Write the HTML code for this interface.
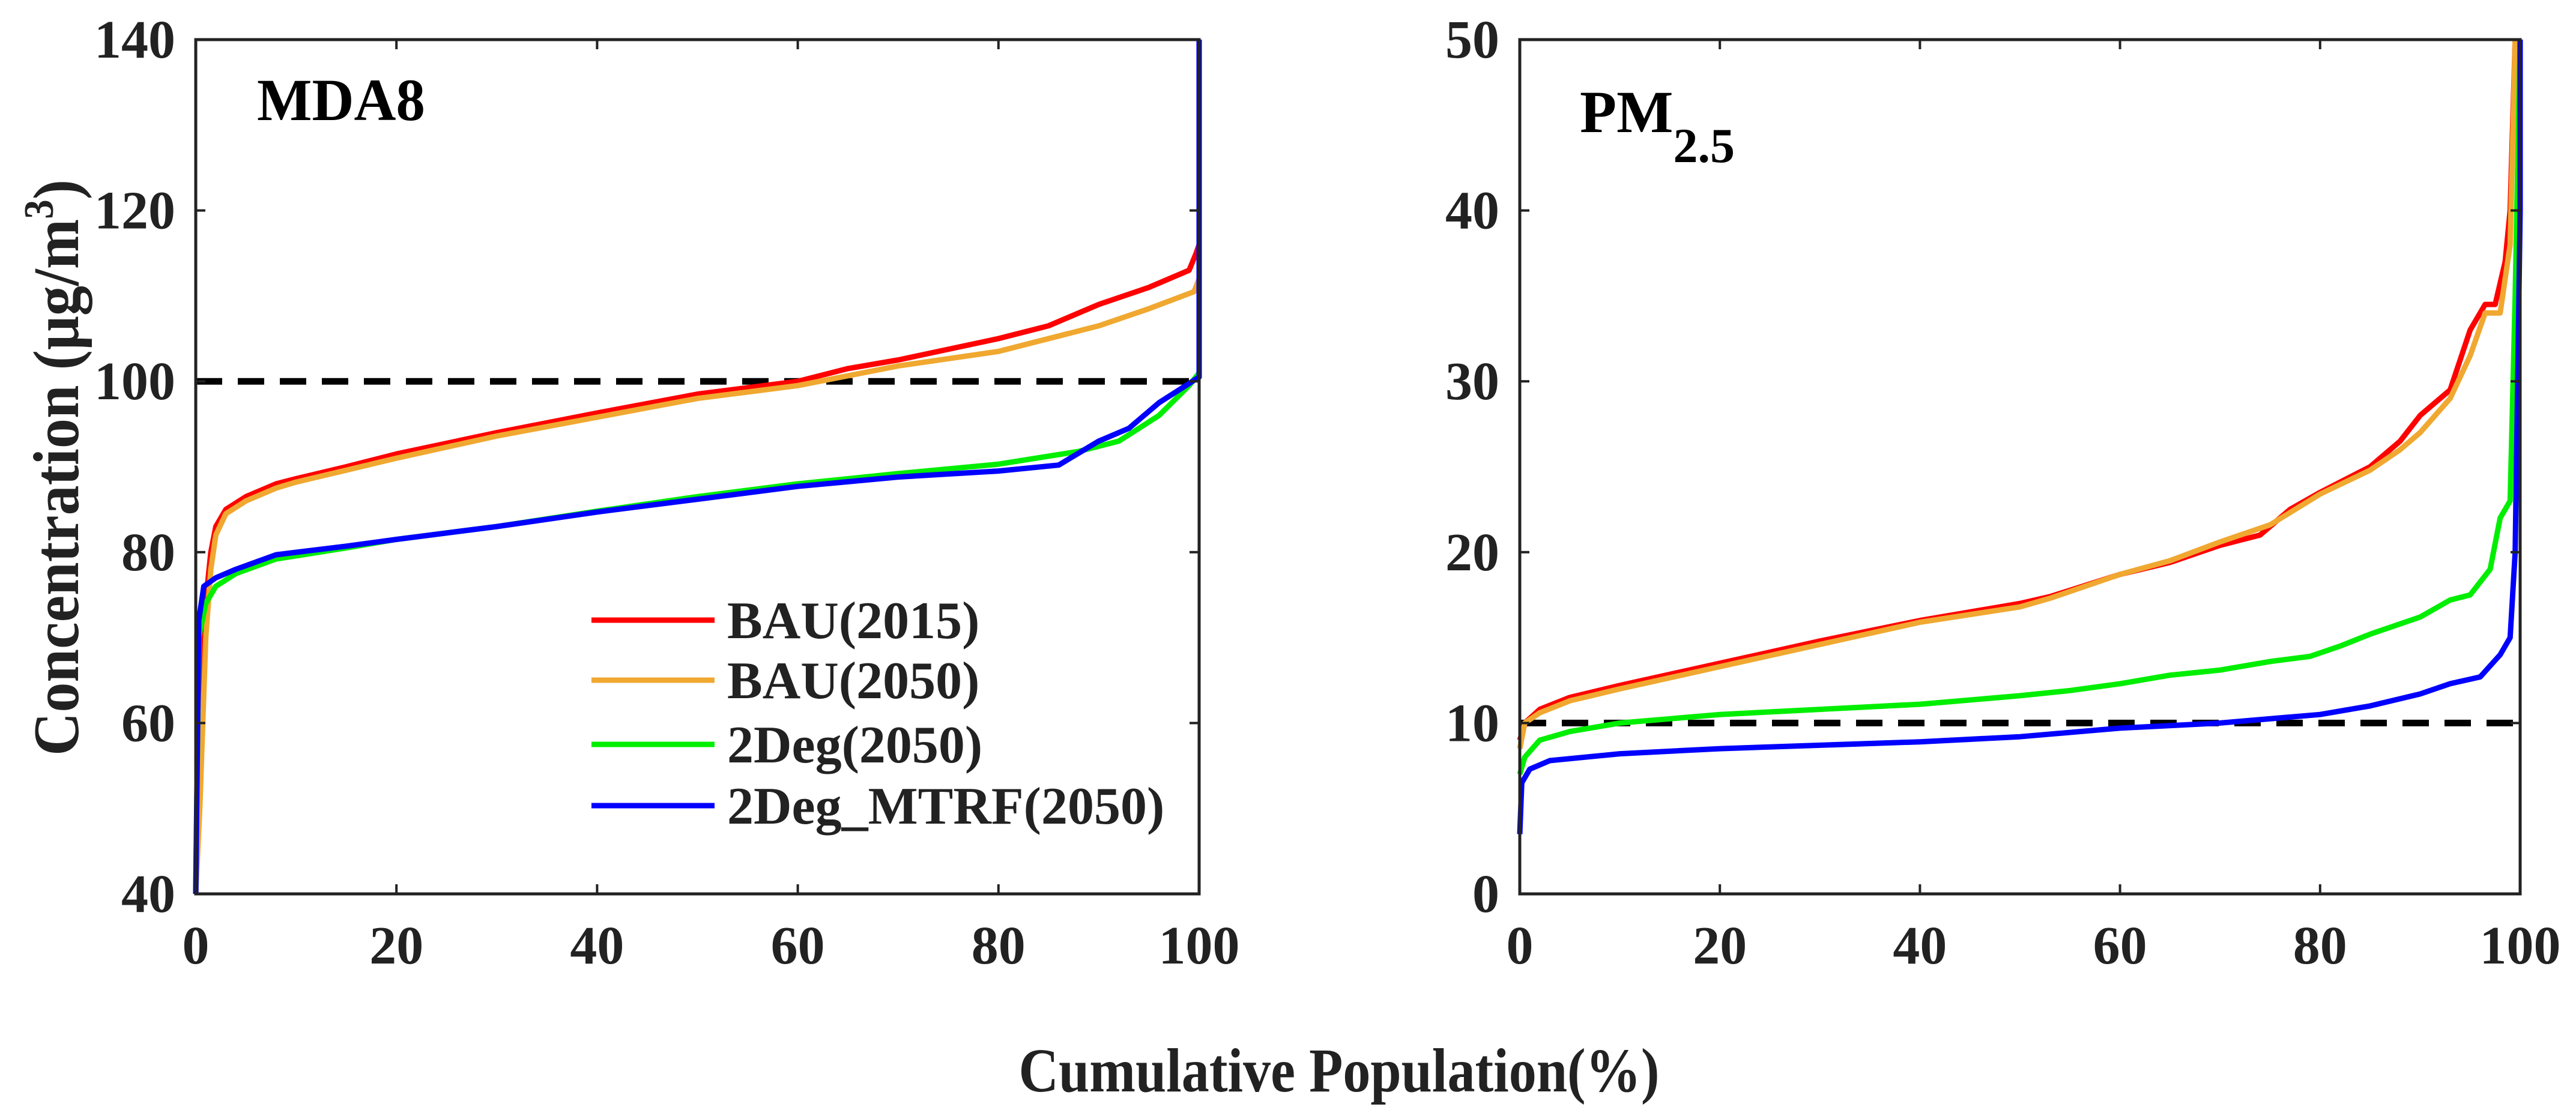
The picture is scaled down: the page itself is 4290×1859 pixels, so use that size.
<!DOCTYPE html>
<html><head><meta charset="utf-8"><style>
html,body{margin:0;padding:0;background:#fff;}
svg{display:block;}
text{font-family:"Liberation Serif",serif;font-weight:bold;fill:#222;}
</style></head><body>
<svg id="chart" width="4290" height="1859" viewBox="0 0 4290 1859"></svg>
<script>
// ---------- data ----------
const leftX_BAU2015 = [0,0.3,0.8,1.5,2,3,5,8,10,15,20,30,40,50,60,65,70,80,85,90,95,99,99.7,100];
const leftY_BAU2015 = [40,52,72,80,83,85,86.5,88,88.6,90,91.5,94,96.3,98.5,100,101.5,102.5,105,106.5,109,111,113,115,116];
const leftX_BAU2050 = [0,0.4,1,1.5,2,3,5,8,10,15,20,30,40,50,60,70,80,90,95,99.5,100];
const leftY_BAU2050 = [40,50,70,78,82,84.5,86,87.5,88.2,89.6,91,93.6,95.8,98,99.5,101.8,103.5,106.5,108.5,110.5,112];
const leftX_2Deg = [0,0.3,1,2,4,8,15,20,30,40,50,60,70,80,88,92,96,99,100];
const leftY_2Deg = [40,70,74,76,77.5,79.2,80.5,81.5,83,84.8,86.5,88,89.2,90.3,91.8,93,96,99.5,101];
const leftX_MTRF = [0,0.3,0.8,2,4,8,15,20,30,40,50,60,70,80,86,90,93,96,100,100];
const leftY_MTRF = [40,72,76,77,78,79.7,80.7,81.5,83,84.7,86.2,87.7,88.8,89.5,90.2,93,94.5,97.5,100.5,140];

const rightX_BAU2015 = [0,0.5,2,5,10,20,30,40,50,53,60,65,70,74,77,80,85,88,90,93,95,96.5,97.5,98.5,99,99.5];
const rightY_BAU2015 = [9,10,10.8,11.5,12.2,13.5,14.8,16,17,17.4,18.7,19.4,20.4,21,22.5,23.5,25,26.5,28,29.5,33,34.5,34.5,37,40,50];
const rightX_BAU2050 = [0,0.5,2,5,10,20,30,40,50,53,60,65,70,75,80,85,88,90,93,95,96.5,98,99,99.5];
const rightY_BAU2050 = [8.5,10,10.6,11.3,12,13.3,14.6,15.9,16.8,17.3,18.7,19.5,20.6,21.6,23.4,24.8,26,27,29,31.5,34,34,38,50];
const rightX_2Deg = [0,0.5,2,5,10,20,30,40,50,55,60,65,70,75,79,82,85,90,93,95,97,98,99,99.5,100];
const rightY_2Deg = [7,8,9,9.5,10,10.5,10.8,11.1,11.6,11.9,12.3,12.8,13.1,13.6,13.9,14.5,15.2,16.2,17.2,17.5,19,22,23,35,50];
const rightX_MTRF = [0,0.2,1,3,10,20,30,40,50,60,70,80,85,90,93,96,98,99,99.5,100,100];
const rightY_MTRF = [3.5,6.5,7.3,7.8,8.2,8.5,8.7,8.9,9.2,9.7,10,10.5,11,11.7,12.3,12.7,14,15,20,40,50];

const xTicks = [0,20,40,60,80,100];
const leftYTicks = [40,60,80,100,120,140];
const rightYTicks = [0,10,20,30,40,50];
const seriesNames = ["BAU(2015)","BAU(2050)","2Deg(2050)","2Deg_MTRF(2050)"];
const leftThreshold = 100;
const rightThreshold = 10;

// ---------- drawing ----------
const NS = "http://www.w3.org/2000/svg";
const svg = document.getElementById('chart');
const colors = ["#ff0000","#f0a830","#00ee00","#0000ff"];
function mk(tag, attrs, parent){
  const e = document.createElementNS(NS, tag);
  for (const k in attrs) e.setAttribute(k, attrs[k]);
  (parent||svg).appendChild(e);
  return e;
}
const TOP = 66, BOT = 1489;
function panel(name, x0, x1, ymin, ymax, yTicks, series, thr){
  const g = mk('g', {});
  
  
  const sx = v => x0 + (v/100)*(x1-x0);
  const sy = v => BOT - (v-ymin)/(ymax-ymin)*(BOT-TOP);
  const d = mk('line', {x1:x0, x2:x1, y1:sy(thr), y2:sy(thr), stroke:'#000', 'stroke-width':11, 'stroke-dasharray':'44 26'}, g);
  
  
  series.forEach((s, i) => {
    const pts = s[0].map((xv, j) => sx(xv).toFixed(1) + ',' + sy(Math.min(s[1][j], ymax)).toFixed(1)).join(' ');
    const p = mk('polyline', {points:pts, fill:'none', stroke:colors[i], 'stroke-width':9, 'stroke-linejoin':'round'}, g);
    
    
  });
  const box = mk('rect', {x:x0, y:TOP, width:x1-x0, height:BOT-TOP, fill:'none', stroke:'#222', 'stroke-width':5}, g);
  
  
  const tl = 16;
  xTicks.forEach(t => {
    const X = sx(t);
    mk('line', {x1:X, x2:X, y1:BOT, y2:BOT-tl, stroke:'#222', 'stroke-width':4}, g);
    mk('line', {x1:X, x2:X, y1:TOP, y2:TOP+tl, stroke:'#222', 'stroke-width':4}, g);
    const tx = mk('text', {x:X, y:1605, 'font-size':90, 'text-anchor':'middle'}, g);
    tx.textContent = t;
    
    
  });
  yTicks.forEach(t => {
    const Y = sy(t);
    mk('line', {x1:x0, x2:x0+tl, y1:Y, y2:Y, stroke:'#222', 'stroke-width':4}, g);
    mk('line', {x1:x1, x2:x1-tl, y1:Y, y2:Y, stroke:'#222', 'stroke-width':4}, g);
    const tx = mk('text', {x:x0-34, y:Y+30, 'font-size':90, 'text-anchor':'end'}, g);
    tx.textContent = t;
    
    
  });
}
panel('mda8', 326, 1997, 40, 140, leftYTicks,
  [[leftX_BAU2015,leftY_BAU2015],[leftX_BAU2050,leftY_BAU2050],[leftX_2Deg,leftY_2Deg],[leftX_MTRF,leftY_MTRF]], leftThreshold);
panel('pm25', 2531, 4197, 0, 50, rightYTicks,
  [[rightX_BAU2015,rightY_BAU2015],[rightX_BAU2050,rightY_BAU2050],[rightX_2Deg,rightY_2Deg],[rightX_MTRF,rightY_MTRF]], rightThreshold);

const legY = [1033,1133,1240,1342];
seriesNames.forEach((n, i) => {
  const l = mk('line', {x1:985, x2:1190, y1:legY[i], y2:legY[i], stroke:colors[i], 'stroke-width':9});
  
  
  const t = mk('text', {x:1211, y:legY[i]+30, 'font-size':88});
  t.textContent = n;
  
  
});
</script>
<script>
(function(){
  const svg = document.getElementById('chart');
  function add(html){ svg.insertAdjacentHTML('beforeend', html); }
  add('<text x="428" y="200" font-size="100" textLength="280" lengthAdjust="spacingAndGlyphs" style="fill:#000">MDA8</text>');
  add('<text x="2631" y="220" font-size="100" style="fill:#000">PM<tspan font-size="82" dy="50">2.5</tspan></text>');
  add('<text transform="translate(130,779) rotate(-90)" text-anchor="middle" font-size="108" textLength="960" lengthAdjust="spacingAndGlyphs">Concentration (μg/m<tspan font-size="70" dy="-42">3</tspan><tspan dy="42">)</tspan></text>');
  add('<text x="2230" y="1818" text-anchor="middle" font-size="104" textLength="1067" lengthAdjust="spacingAndGlyphs">Cumulative Population(%)</text>');
})();
</script>
</body></html>
